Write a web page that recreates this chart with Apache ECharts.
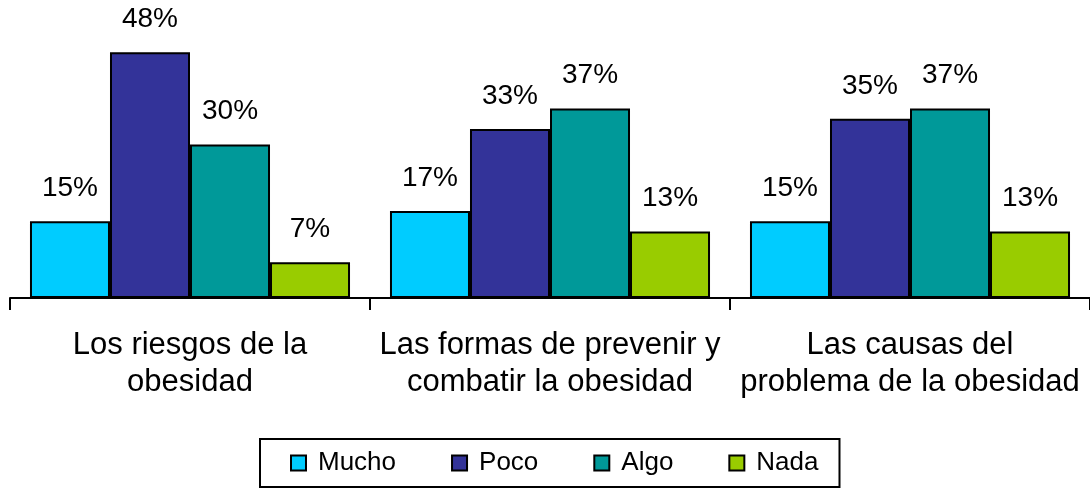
<!DOCTYPE html>
<html>
<head>
<meta charset="utf-8">
<script src="https://cdn.jsdelivr.net/npm/echarts@6/dist/echarts.min.js"></script>
<style>
  html, body { margin: 0; padding: 0; background: #fff; }
  #chart { width: 1090px; height: 489px; }
</style>
</head>
<body>
<div id="chart"></div>
<script>
// Topics asked about, one bar group each
const categories = [
  'Los riesgos de la\nobesidad',
  'Las formas de prevenir y\ncombatir la obesidad',
  'Las causas del\nproblema de la obesidad'
];

// Share of answers (%) per level of knowledge
const mucho = [15, 17, 15];
const poco  = [48, 33, 35];
const algo  = [30, 37, 37];
const nada  = [7, 13, 13];

const seriesNames  = ['Mucho', 'Poco', 'Algo', 'Nada'];
const seriesColors = ['#00CCFF', '#333399', '#009999', '#99CC00'];
const seriesValues = [mucho, poco, algo, nada];

const FONT = '"Liberation Sans", Arial, sans-serif';

const chart = echarts.init(document.getElementById('chart'), null, { renderer: 'canvas' });

chart.setOption({
  animation: false,
  backgroundColor: '#ffffff',
  grid: { left: 10, right: -1, top: 42, bottom: 191, containLabel: false },
  legend: {
    left: 260,
    top: 439,
    padding: [11, 21, 11, 30],
    itemGap: 55,
    itemWidth: 15,
    itemHeight: 15,
    borderColor: '#000',
    borderWidth: 2,
    icon: 'rect',
    textStyle: { fontFamily: FONT, fontSize: 26, color: '#000', padding: [0, 0, 0, 7] },
    data: seriesNames
  },
  xAxis: {
    type: 'category',
    data: categories,
    boundaryGap: true,
    axisLine: { show: true, lineStyle: { color: '#000', width: 2 } },
    axisTick: { show: true, length: 12, lineStyle: { color: '#000', width: 2 } },
    axisLabel: {
      fontFamily: FONT,
      fontSize: 31,
      lineHeight: 37,
      color: '#000',
      margin: 29,
      interval: 0
    }
  },
  yAxis: {
    type: 'value',
    min: 0,
    max: 50,
    show: false,
    splitLine: { show: false }
  },
  series: seriesNames.map((name, i) => ({
    name: name,
    type: 'bar',
    data: seriesValues[i],
    barGap: '0%',
    barCategoryGap: '11.1%',
    itemStyle: { color: seriesColors[i], borderColor: '#000', borderWidth: 2 },
    label: {
      show: true,
      position: 'top',
      distance: 19,
      formatter: '{c}%',
      fontFamily: FONT,
      fontSize: 28,
      color: '#000'
    }
  }))
});
</script>
</body>
</html>
